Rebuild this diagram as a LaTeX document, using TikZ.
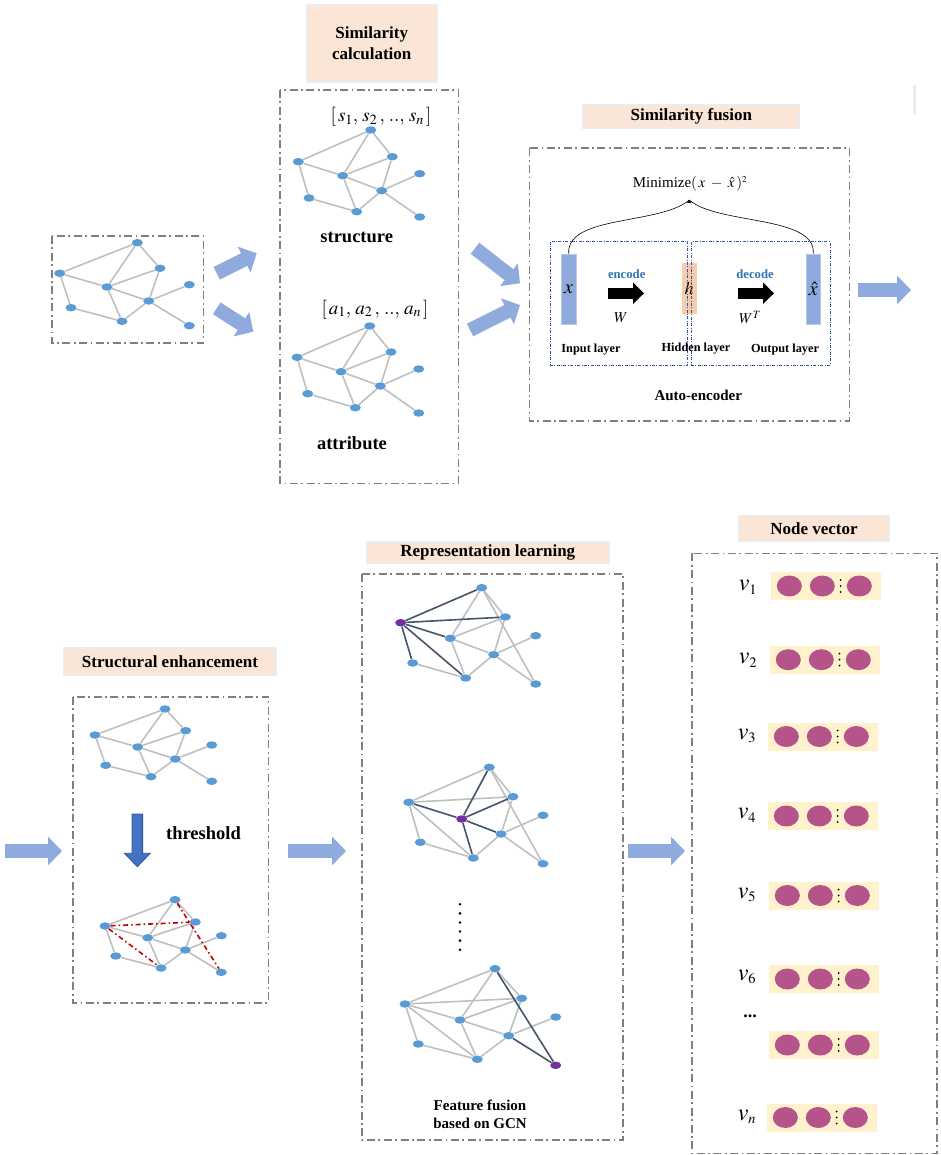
\documentclass[tikz,border=0pt]{standalone}
\usepackage{mathptmx}
\usepackage{fontspec}
\setmainfont{Liberation Serif}
\usetikzlibrary{shapes.geometric,arrows.meta}
\definecolor{nblue}{HTML}{5B9BD5}
\definecolor{egray}{HTML}{BFBFBF}
\definecolor{edark}{HTML}{44546A}
\definecolor{npurple}{HTML}{7030A0}
\definecolor{peach}{HTML}{FBE5D6}
\definecolor{tborder}{HTML}{ECECEC}
\definecolor{boxgray}{HTML}{7F7F7F}
\definecolor{arrblue}{HTML}{8FAADC}
\definecolor{darrow}{HTML}{4472C4}
\definecolor{darrowb}{HTML}{2F5597}
\definecolor{redd}{HTML}{C00000}
\definecolor{vecbg}{HTML}{FFF2CC}
\definecolor{vecdot}{HTML}{B5538B}
\definecolor{hpeach}{HTML}{F8CBAD}
\definecolor{txtblue}{HTML}{2E75B6}
\definecolor{innerb}{HTML}{2F5597}
\definecolor{xfill}{HTML}{8FAADC}
\definecolor{xborder}{HTML}{B4C7E7}
\pgfdeclarelayer{bg}
\pgfsetlayers{bg,main}
\tikzset{
 gn/.style={ellipse, fill=nblue, minimum width=11pt, minimum height=7.5pt, inner sep=0pt},
 pn/.style={gn, fill=npurple},
 ge/.style={draw=egray, line width=1.6pt},
 de/.style={draw=edark, line width=1.6pt},
 re/.style={draw=redd, line width=1.6pt, dash pattern=on 5pt off 3pt on 1.5pt off 3pt},
 dbox/.style={draw=boxgray, line width=1.6pt, dash pattern=on 8pt off 3.5pt on 1.8pt off 3.5pt},
 ibox/.style={draw=innerb, line width=0.8pt, dash pattern=on 3pt off 1.5pt on 0.8pt off 1.5pt},
 titlebox/.style={fill=peach, draw=tborder, line width=1.8pt, inner sep=0pt, font=\fontsize{17}{20.6}\selectfont\bfseries, align=center},
 barrow/.style={draw=arrblue, line width=14pt, -{Triangle[width=28pt,length=14pt]}},
 karrow/.style={draw=black, line width=11pt, -{Triangle[width=21pt,length=11pt]}},
 lbl/.style={font=\fontsize{18.5}{22}\selectfont\bfseries, inner sep=0pt},
 small/.style={font=\fontsize{12.3}{14}\selectfont\bfseries, inner sep=0pt},
 vbg/.style={fill=vecbg, minimum width=110pt, minimum height=28pt, inner sep=0pt, anchor=west},
 vel/.style={ellipse, fill=vecdot, minimum width=25pt, minimum height=21pt, inner sep=0pt},
 vlab/.style={font=\fontsize{24}{24}\selectfont, inner sep=0pt},
}
\newcommand{\baseedges}[1]{\foreach \u/\v in {a/c,a/d,a/b,c/d,d/b,d/f,b/f,f/e,f/i,f/h,d/h,c/g,g/h} \draw[ge] (#1\u) -- (#1\v);}
\newcommand{\vsub}[1]{$v_{\scriptscriptstyle #1}$}
\begin{document}
\begin{tikzpicture}[x=1pt,y=-1pt]
\useasboundingbox (0,0) rectangle (940,1155);

% ---------- boxes ----------
\draw[dbox] (51.7,236) rectangle (203.3,343);
\draw[dbox] (280,90) rectangle (458.3,483.3);
\draw[dbox] (529.3,148.3) rectangle (849.3,420.7);
\draw[dbox] (72.7,696.7) rectangle (268.3,1002.7);
\draw[dbox] (361.7,574) rectangle (623,1140);
\draw[dbox] (691.7,553.3) rectangle (937,1153.3);

% ---------- titles ----------
\node[titlebox, minimum width=130pt, minimum height=76.7pt] (tsimcalc) at (371.7,43.3) {Similarity\\calculation};
\node[titlebox, minimum width=216pt, minimum height=23.3pt] (tsimfus) at (691.3,116.7) {Similarity fusion};
\node[titlebox, minimum width=212pt, minimum height=26.7pt] (tstruct) at (170,661.7) {Structural enhancement};
\node[titlebox, minimum width=242pt, minimum height=21.6pt] (trep) at (487.8,552.5) {Representation learning};
\node[titlebox, minimum width=149.4pt, minimum height=24.7pt] (tnode) at (814,528.3) {Node vector};
\filldraw[fill=peach, draw=tborder, line width=0.8pt] (913.3,85) rectangle (915.7,113);

% ---------- top-left graph ----------
\foreach \n/\x/\y in {a/137.3/242.7, b/160/268.3, c/59.7/273.3, d/107/287, e/189.3/284.7, f/148.7/301, g/71/307.7, h/122/321.3, i/189.3/325.7} \node[gn] (t\n) at (\x,\y) {};
\begin{pgfonlayer}{bg}\baseedges{t}\end{pgfonlayer}

% ---------- structure graph ----------
\node[inner sep=0pt, font=\fontsize{19}{19}\selectfont] (slist) at (381,116.7) {$[\,s_1,\, s_2\,,\, ..,\, s_n\,]$};
\foreach \n/\x/\y in {a/370.7/130, b/392.3/156.7, c/298.3/161.7, d/342.7/175.7, e/419.7/173.7, f/381.7/190.7, g/309/198, h/356.7/211.7, i/419.7/217} \node[gn] (s\n) at (\x,\y) {};
\begin{pgfonlayer}{bg}\baseedges{s}\end{pgfonlayer}
\node[lbl] (lstruct) at (356.7,237.3) {structure};

% ---------- attribute graph ----------
\node[inner sep=0pt, font=\fontsize{19}{19}\selectfont] (alist) at (375,309.3) {$[\,a_1,\, a_2\,,\, ..,\, a_n\,]$};
\foreach \n/\x/\y in {a/369.7/326, b/391/352, c/297/357.3, d/341/371.7, e/418.7/369, f/380.3/386, g/307.7/393.7, h/355.3/407.7, i/418.7/413} \node[gn] (r\n) at (\x,\y) {};
\begin{pgfonlayer}{bg}\baseedges{r}\end{pgfonlayer}
\node[lbl] (lattr) at (352,443.3) {attribute};

% ---------- block arrows ----------
\coordinate (a1s) at (216.7,273.3); \coordinate (a1e) at (256.7,253.3);
\coordinate (a2s) at (216.7,308.3); \coordinate (a2e) at (253.3,331.7);
\coordinate (a3s) at (475,248.3);   \coordinate (a3e) at (520,283.3);
\coordinate (a4s) at (470,330);     \coordinate (a4e) at (520,305);
\coordinate (a5s) at (858,290);     \coordinate (a5e) at (911,290);
\coordinate (a6s) at (5,851);       \coordinate (a6e) at (62,851);
\coordinate (a7s) at (288,851);     \coordinate (a7e) at (346,851);
\coordinate (a8s) at (628,851);     \coordinate (a8e) at (685,851);
\foreach \k in {1,...,8} \draw[barrow] (a\k s) -- (a\k e);

% ---------- auto-encoder ----------
\node[inner sep=0pt, font=\fontsize{15}{15}\selectfont] (minim) at (690,184) {Minimize$(\,x\;-\;\hat{x}\,)^{\scriptscriptstyle 2}$};
\node[fill=hpeach, minimum width=15pt, minimum height=51pt, inner sep=0pt, font=\fontsize{18}{18}\selectfont] (hbox) at (689.2,288.8) {$h$};
\draw[ibox] (550.7,241.7) rectangle (687.7,365);
\draw[ibox] (691.7,241.7) rectangle (830,365);
\node[fill=xfill, draw=xborder, line width=0.8pt, minimum width=14.7pt, minimum height=70.3pt, inner sep=0pt, font=\fontsize{20}{20}\selectfont] (xbox) at (568.7,289.2) {$x$};
\node[fill=xfill, draw=xborder, line width=0.8pt, minimum width=14.7pt, minimum height=70.3pt, inner sep=0pt, font=\fontsize{20}{20}\selectfont] (xhbox) at (813.3,289.2) {$\hat{x}$};
\coordinate (peak) at (689.3,200);
\draw[line width=0.6pt] (xbox.north) .. controls (566,215) and (660,225) .. (peak);
\draw[line width=0.6pt] (xhbox.north) .. controls (816,215) and (718,225) .. (peak);
\fill (peak) ++(-2.2,3) -- (peak) -- ++(2.2,3) -- cycle;
\coordinate (encs) at (608.3,293.3); \coordinate (ence) at (644,293.3);
\coordinate (decs) at (738.3,293.3); \coordinate (dece) at (774,293.3);
\draw[karrow] (encs) -- (ence);
\draw[karrow] (decs) -- (dece);
\node[small, text=txtblue, font=\fontsize{12.7}{14}\selectfont\bfseries] (lenc) at (626.7,274) {encode};
\node[small, text=txtblue, font=\fontsize{12.7}{14}\selectfont\bfseries] (ldec) at (755,274) {decode};
\node[inner sep=0pt, font=\fontsize{15}{15}\selectfont] (lw) at (621,317.3) {$W$};
\node[inner sep=0pt, font=\fontsize{15}{15}\selectfont] (lwt) at (750,317.3) {$W^{T}$};
\node[small] (linp) at (591,349.3) {Input layer};
\node[small] (lhid) at (696,348.3) {Hidden layer};
\node[small] (lout) at (785,349.3) {Output layer};
\node[inner sep=0pt, font=\fontsize{15}{15}\selectfont\bfseries] (lauto) at (698.3,395) {Auto-encoder};

% ---------- structural enhancement ----------
\foreach \n/\x/\y in {a/165/709, b/185.7/730.7, c/95/735, d/137.7/747, e/211.7/745, f/175.3/759, g/105.7/765.3, h/151/776.7, i/211.7/781.3} \node[gn] (u\n) at (\x,\y) {};
\begin{pgfonlayer}{bg}\baseedges{u}\end{pgfonlayer}
\filldraw[fill=darrow, draw=darrowb, line width=0.8pt] (132,814) -- (142.6,814) -- (142.6,853.3) -- (150.2,853.3) -- (137.3,866.7) -- (124.4,853.3) -- (132,853.3) -- cycle;
\node[lbl] (lthr) at (203.5,833.3) {threshold};
\foreach \n/\x/\y in {a/175/899.7, b/195.3/922, c/105/926, d/147.7/937.7, e/221.3/935.7, f/185.3/950, g/115.7/956, h/161/968, i/221.3/972.3} \node[gn] (w\n) at (\x,\y) {};
\begin{pgfonlayer}{bg}\baseedges{w}
\foreach \u/\v in {c/b,a/i,c/h} \draw[re] (w\u) -- (w\v);
\end{pgfonlayer}

% ---------- representation learning ----------
\node[pn] (pp) at (400.7,622.7) {};
\foreach \n/\x/\y in {a/481.7/587.7, b/505.3/617, d/450.3/638.3, e/535.7/635.7, f/493.7/654.7, g/412.7/663, h/465.7/678, i/535.7/684} \node[gn] (p\n) at (\x,\y) {};
\begin{pgfonlayer}{bg}
\foreach \u/\v in {a/d,a/b,a/i,d/b,d/f,b/f,f/e,f/i,f/h,d/h,g/h} \draw[ge] (p\u) -- (p\v);
\foreach \v in {a,b,d,g,h} \draw[de] (pp) -- (p\v);
\end{pgfonlayer}

\node[pn] (qp) at (461.7,819) {};
\foreach \n/\x/\y in {a/489.3/767.3, b/513/796.7, c/408.7/802.3, e/543/815.3, f/501/834, g/420.3/842.3, h/473.3/858, i/543/863.7} \node[gn] (q\n) at (\x,\y) {};
\begin{pgfonlayer}{bg}
\foreach \u/\v in {c/a,c/b,c/g,c/h,g/h,a/b,a/i,b/f,f/e,f/h,f/i} \draw[ge] (q\u) -- (q\v);
\foreach \v in {c,a,b,f,h} \draw[de] (qp) -- (q\v);
\end{pgfonlayer}

\foreach \k in {0,...,5} \fill (460,904.3+9.08*\k) circle (1.4pt);

\node[pn] (zp) at (555.7,1065.3) {};
\foreach \n/\x/\y in {a/495/968.7, b/521.7/998.3, c/405/1004, d/460/1020, e/555.7/1017, f/508.7/1035.7, g/418.3/1044, h/477.3/1059.3} \node[gn] (z\n) at (\x,\y) {};
\begin{pgfonlayer}{bg}
\foreach \u/\v in {c/a,c/b,c/d,c/g,c/h,g/h,a/d,a/b,d/b,d/f,d/h,b/f,f/e,f/h} \draw[ge] (z\u) -- (z\v);
\foreach \v in {a,f} \draw[de] (zp) -- (z\v);
\end{pgfonlayer}
\node[inner sep=0pt, align=center, font=\fontsize{15}{18}\selectfont\bfseries] (lfeat) at (480,1114) {Feature fusion\\based on GCN};

% ---------- node vectors ----------
\foreach \k/\xl/\yc in {1/771/586, 2/770/659.7, 3/768/736.5, 4/768/816, 5/769/895.5, 6/769/979, 7/769/1045, 8/767/1117.5} {
  \node[vbg] (vr\k) at (\xl,\yc) {};
  \node[vel] (vea\k) at (\xl+18.3,\yc) {};
  \node[vel] (veb\k) at (\xl+51.3,\yc) {};
  \node[vel] (vec\k) at (\xl+88.3,\yc) {};
  \foreach \d in {-6,0,6} \fill (\xl+69.5,\yc+\d) circle (1pt);
}
\node[vlab] (vl1) at (748,587) {\vsub{1}};
\node[vlab] (vl2) at (748,660) {\vsub{2}};
\node[vlab] (vl3) at (747,736) {\vsub{3}};
\node[vlab] (vl4) at (747,815) {\vsub{4}};
\node[vlab] (vl5) at (747,895) {\vsub{5}};
\node[vlab] (vl6) at (747,977) {\vsub{6}};
\node[inner sep=0pt, font=\fontsize{18}{18}\selectfont\bfseries] (vdots) at (750,1016) {...};
\node[vlab] (vln) at (747,1117) {\vsub{n}};
\end{tikzpicture}
\end{document}
